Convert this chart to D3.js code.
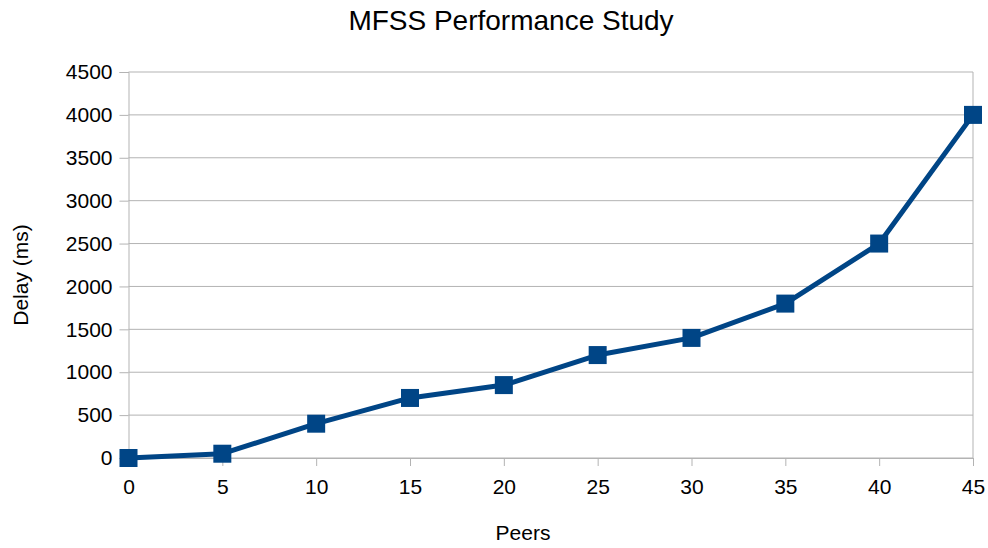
<!DOCTYPE html>
<html>
<head>
<meta charset="utf-8">
<script src="https://cdn.jsdelivr.net/npm/d3@7"></script>
<style>
  body { margin: 0; background: #fff; }
  text { font-family: "Liberation Sans", Arial, sans-serif; fill: #000; }
</style>
</head>
<body>
<script>
const peers = [0, 5, 10, 15, 20, 25, 30, 35, 40, 45];
const delays = [0, 50, 400, 700, 850, 1200, 1400, 1800, 2500, 4000];
const yTicks = [0, 500, 1000, 1500, 2000, 2500, 3000, 3500, 4000, 4500];

const margin = { top: 72, right: 15, bottom: 90, left: 128.5 };
const width = 988 - margin.left - margin.right;
const height = 548 - margin.top - margin.bottom;

const x = d3.scaleLinear().domain([0, 45]).range([0, width]);
const y = d3.scaleLinear().domain([0, 4500]).range([height, 0]);

const svg = d3.select('body').append('svg')
  .attr('width', 988)
  .attr('height', 548);

svg.append('text')
  .attr('x', 511)
  .attr('y', 30)
  .attr('text-anchor', 'middle')
  .style('font-size', '28px')
  .text('MFSS Performance Study');

const g = svg.append('g')
  .attr('transform', `translate(${margin.left}, ${margin.top})`);

// grid
g.selectAll('.hgrid')
  .data(yTicks)
  .enter().append('line')
  .attr('x1', 0)
  .attr('x2', width)
  .attr('y1', d => y(d))
  .attr('y2', d => y(d))
  .attr('stroke', '#b3b3b3')
  .attr('stroke-width', 1);

const yAxis = g.append('g')
  .call(d3.axisLeft(y).tickValues(yTicks).tickFormat(d3.format('d')).tickSize(9).tickPadding(7));

const xAxis = g.append('g')
  .attr('transform', `translate(0, ${height})`)
  .call(d3.axisBottom(x).tickValues(peers).tickFormat(d3.format('d')).tickSize(8).tickPadding(13));

[yAxis, xAxis].forEach(a => {
  a.selectAll('path, line').attr('stroke', '#b3b3b3');
  a.selectAll('text').style('font-size', '21px').attr('fill', '#000');
});

g.append('line')
  .attr('x1', width).attr('x2', width)
  .attr('y1', 0).attr('y2', height)
  .attr('stroke', '#b3b3b3');

const data = peers.map((p, i) => [p, delays[i]]);

g.append('path')
  .datum(data)
  .attr('fill', 'none')
  .attr('stroke', '#004586')
  .attr('stroke-width', 5)
  .attr('stroke-linejoin', 'round')
  .attr('d', d3.line().x(d => x(d[0])).y(d => y(d[1])));

g.selectAll('.pt')
  .data(data)
  .enter().append('rect')
  .attr('x', d => x(d[0]) - 9)
  .attr('y', d => y(d[1]) - 9)
  .attr('width', 18)
  .attr('height', 18)
  .attr('fill', '#004586');

svg.append('text')
  .attr('x', 523)
  .attr('y', 540)
  .attr('text-anchor', 'middle')
  .style('font-size', '21px')
  .text('Peers');

svg.append('text')
  .attr('transform', 'translate(28, 275) rotate(-90)')
  .attr('text-anchor', 'middle')
  .style('font-size', '21px')
  .text('Delay (ms)');
</script>
</body>
</html>
